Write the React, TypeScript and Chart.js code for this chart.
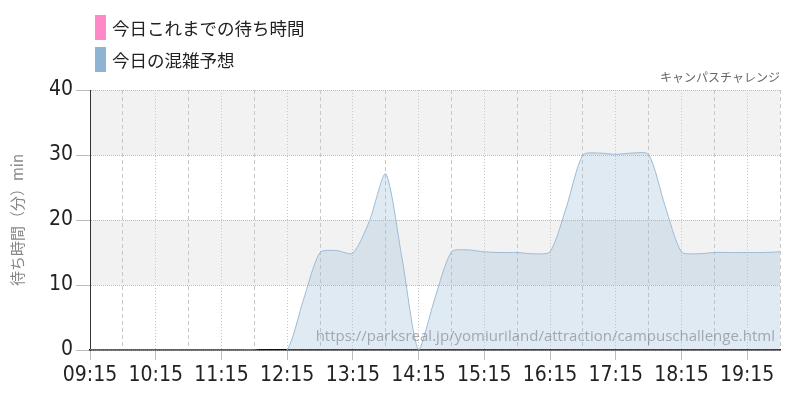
import React, { useEffect, useRef } from "react";
import { Chart, registerables } from "chart.js";

Chart.register(...registerables);

const timeLabels: string[] = [
  "09:15", "09:30", "09:45", "10:00", "10:15", "10:30", "10:45", "11:00",
  "11:15", "11:30", "11:45", "12:00", "12:15", "12:30", "12:45", "13:00",
  "13:15", "13:30", "13:45", "14:00", "14:15", "14:30", "14:45", "15:00",
  "15:15", "15:30", "15:45", "16:00", "16:15", "16:30", "16:45", "17:00",
  "17:15", "17:30", "17:45", "18:00", "18:15", "18:30", "18:45", "19:00",
  "19:15", "19:30", "19:45",
];

const todaySoFar: number[] = [];

const forecast: number[] = [
  0, 0, 0, 0, 0, 0, 0, 0,
  0, 0, 0, -0.25, 0, 7.8, 15, 15.3,
  14.9, 19.8, 27.1, 14, 0, 8, 15.1, 15.4,
  15.1, 15, 15, 14.8, 15.1, 22, 30, 30.3,
  30.1, 30.3, 30.1, 22.2, 15.1, 14.8, 15, 15,
  15, 15, 15.1,
];

const seriesNames: string[] = ["今日これまでの待ち時間", "今日の混雑予想"];
const seriesColors: string[] = ["#ff88c8", "#8fb3d3"];
const yTicks: number[] = [0, 10, 20, 30, 40];
const attractionName = "キャンパスチャレンジ";
const yTitle = "待ち時間（分）min";
const sourceUrl = "https://parksreal.jp/yomiuriland/attraction/campuschallenge.html";

const NUM_FONT = "'Liberation Sans Narrow', 'DejaVu Sans Condensed', sans-serif";
const JP_FONT = "'Noto Sans CJK JP', sans-serif";

const decorPlugin = {
  id: "decor",
  beforeDraw(chart: any) {
    const { ctx, chartArea, scales } = chart;
    const y = scales.y;
    ctx.save();
    ctx.fillStyle = "#f2f2f2";
    for (let i = 0; i < yTicks.length - 1; i++) {
      if (i % 2 === 1) {
        const top = y.getPixelForValue(yTicks[i + 1]);
        const bottom = y.getPixelForValue(yTicks[i]);
        ctx.fillRect(chartArea.left, top, chartArea.right - chartArea.left, bottom - top);
      }
    }
    ctx.restore();
  },
  afterDatasetsDraw(chart: any) {
    const { ctx, chartArea } = chart;
    ctx.save();
    ctx.font = "15px 'Open Sans', sans-serif";
    ctx.fillStyle = "rgba(105,112,122,0.55)";
    ctx.textAlign = "right";
    ctx.textBaseline = "middle";
    ctx.fillText(sourceUrl, chartArea.right - 5, chartArea.bottom - 13);
    ctx.restore();
  },
  afterDraw(chart: any) {
    const { ctx, chartArea } = chart;
    ctx.save();
    ctx.font = "17.5px " + JP_FONT;
    ctx.textBaseline = "middle";
    ctx.textAlign = "left";
    chart.data.datasets.forEach((ds: any, i: number) => {
      const top = 15 + i * 32;
      ctx.fillStyle = seriesColors[i];
      ctx.fillRect(95, top, 11, 25);
      ctx.fillStyle = "#222";
      ctx.fillText(ds.label, 112, top + 13);
    });
    ctx.font = "12px " + JP_FONT;
    ctx.fillStyle = "#666";
    ctx.textAlign = "right";
    ctx.fillText(attractionName, chartArea.right, 77);
    ctx.restore();
  },
};

export default function App() {
  const canvasRef = useRef<HTMLCanvasElement | null>(null);

  useEffect(() => {
    document.body.style.margin = "0";
    const canvas = canvasRef.current;
    if (!canvas) return;
    const chart = new Chart(canvas, {
      type: "line",
      data: {
        labels: timeLabels,
        datasets: [
          {
            label: seriesNames[0],
            data: todaySoFar,
            borderColor: seriesColors[0],
            backgroundColor: seriesColors[0],
            borderWidth: 2,
            pointRadius: 0,
          },
          {
            label: seriesNames[1],
            data: forecast,
            borderColor: "#9dbbd6",
            backgroundColor: "rgba(155,187,216,0.31)",
            borderWidth: 1,
            pointRadius: 0,
            fill: "origin",
            tension: 0.25,
          },
        ],
      },
      options: {
        responsive: false,
        animation: false,
        layout: { padding: { top: 90, right: 20, left: 0, bottom: 0 } },
        plugins: {
          legend: { display: false },
          title: { display: false },
          tooltip: { enabled: false },
        },
        scales: {
          x: {
            type: "category",
            afterFit: (scale: any) => {
              scale.height = 50;
            },
            border: {
              color: "#111",
              width: 1.5,
              dash: (ctx: any) => (ctx.index !== undefined && ctx.index % 4 === 0 ? [1, 2] : [4, 3]),
            },
            grid: {
              color: (ctx: any) => (ctx.index % 2 === 0 ? "#c8c8c8" : "rgba(0,0,0,0)"),
              tickColor: (ctx: any) => (ctx.index % 4 === 0 ? "#bdbdbd" : "rgba(0,0,0,0)"),
              tickLength: 10,
              lineWidth: 1,
            },
            ticks: {
              autoSkip: false,
              maxRotation: 0,
              minRotation: 0,
              padding: 3,
              color: "#222",
              font: { family: NUM_FONT, size: 21 },
              callback: (_v: any, idx: number) => (idx % 4 === 0 ? timeLabels[idx] : ""),
            },
          },
          y: {
            min: yTicks[0],
            max: yTicks[yTicks.length - 1],
            afterFit: (scale: any) => {
              scale.width = 90;
            },
            border: {
              color: "#333",
              width: 1,
              dash: [1, 1],
            },
            grid: {
              color: "#bbbbbb",
              tickColor: "#bbbbbb",
              tickLength: 14,
              lineWidth: 1,
            },
            ticks: {
              stepSize: 10,
              padding: 3,
              color: "#222",
              font: { family: NUM_FONT, size: 21 },
            },
            title: {
              display: true,
              text: yTitle,
              color: "#888",
              font: { family: JP_FONT, size: 15 },
              padding: { top: 8, bottom: 0 },
            },
          },
        },
      },
      plugins: [decorPlugin],
    });
    return () => chart.destroy();
  }, []);

  return (
    <div style={{ width: 800, height: 400 }}>
      <canvas ref={canvasRef} width={800} height={400} />
    </div>
  );
}
